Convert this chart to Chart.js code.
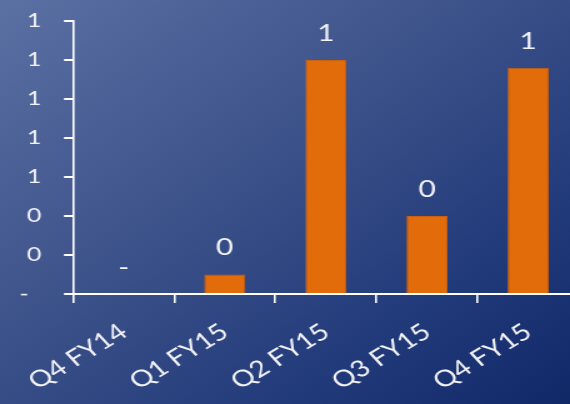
<!DOCTYPE html>
<html>
<head>
<meta charset="utf-8">
<script src="https://cdn.jsdelivr.net/npm/chart.js@4/dist/chart.umd.min.js"></script>
<style>
  html, body { margin: 0; padding: 0; }
  body {
    width: 570px; height: 404px; overflow: hidden;
    background: linear-gradient(to bottom right, #5b70a3 0%, #3a5088 45%, #213a7a 75%, #112867 100%);
  }
  #wrap { width: 570px; height: 404px; overflow: hidden; position: relative; }
</style>
</head>
<body>
<div id="wrap"><canvas id="c" width="464" height="404" style="display:block;width:580px;height:404px"></canvas></div>
<script>
// quarters shown on the category axis
const categories = ['Q4 FY14', 'Q1 FY15', 'Q2 FY15', 'Q3 FY15', 'Q4 FY15'];
// value per quarter
const values = [0, 0.1, 1.2, 0.4, 1.16];
// value axis range and step
const yMin = 0;
const yMax = 1.4;
const yStep = 0.2;

// accounting style: zero shows as a dash, others as whole numbers
function acct(v) {
  if (Math.abs(v) < 1e-9) return '-';
  return String(Math.round(v));
}

const TEXT = '#f4f4f8';
const FONT = 'Lato';

const valueLabels = {
  id: 'valueLabels',
  afterDatasetsDraw(chart) {
    const ctx = chart.ctx;
    const meta = chart.getDatasetMeta(0);
    ctx.save();
    ctx.fillStyle = TEXT;
    ctx.font = '24px ' + FONT;
    ctx.textAlign = 'center';
    ctx.textBaseline = 'middle';
    meta.data.forEach((bar, i) => {
      ctx.fillText(acct(values[i]), bar.x, bar.y - 27);
    });
    ctx.restore();
  }
};

new Chart(document.getElementById('c'), {
  type: 'bar',
  data: {
    labels: categories,
    datasets: [{
      data: values,
      backgroundColor: '#e36c0a',
      borderColor: '#c9600f',
      borderWidth: 1,
      categoryPercentage: 1,
      barPercentage: 0.406
    }]
  },
  options: {
    responsive: false,
    devicePixelRatio: 1,
    animation: false,
    events: [],
    layout: { padding: { top: 21, right: 1, left: 0, bottom: 0 } },
    plugins: { legend: { display: false }, tooltip: { enabled: false } },
    scales: {
      x: {
        grid: { drawOnChartArea: false, drawTicks: true, tickLength: 9, color: '#ffffff', lineWidth: 1.6, offset: true },
        border: { display: true, color: '#ffffff', width: 2 },
        ticks: {
          color: TEXT, font: { family: FONT, size: 23 },
          minRotation: 37, maxRotation: 37, autoSkip: false, padding: 15
        },
        afterFit(s) { s.height = 110; s.paddingLeft = 0; s.paddingRight = 0; }
      },
      y: {
        min: yMin, max: yMax,
        grid: { drawOnChartArea: false, drawTicks: true, tickLength: 7.2, color: '#ffffff', lineWidth: 2 },
        border: { display: true, color: '#ffffff', width: 1.6 },
        ticks: {
          stepSize: yStep, color: TEXT, font: { family: FONT, size: 20 }, padding: 18,
          callback: (v) => acct(v) === '-' ? '-  ' : acct(v)
        },
        afterFit(s) { s.width = 58.4; s.paddingTop = 0; s.paddingBottom = 0; }
      }
    }
  },
  plugins: [valueLabels]
});
</script>
</body>
</html>
